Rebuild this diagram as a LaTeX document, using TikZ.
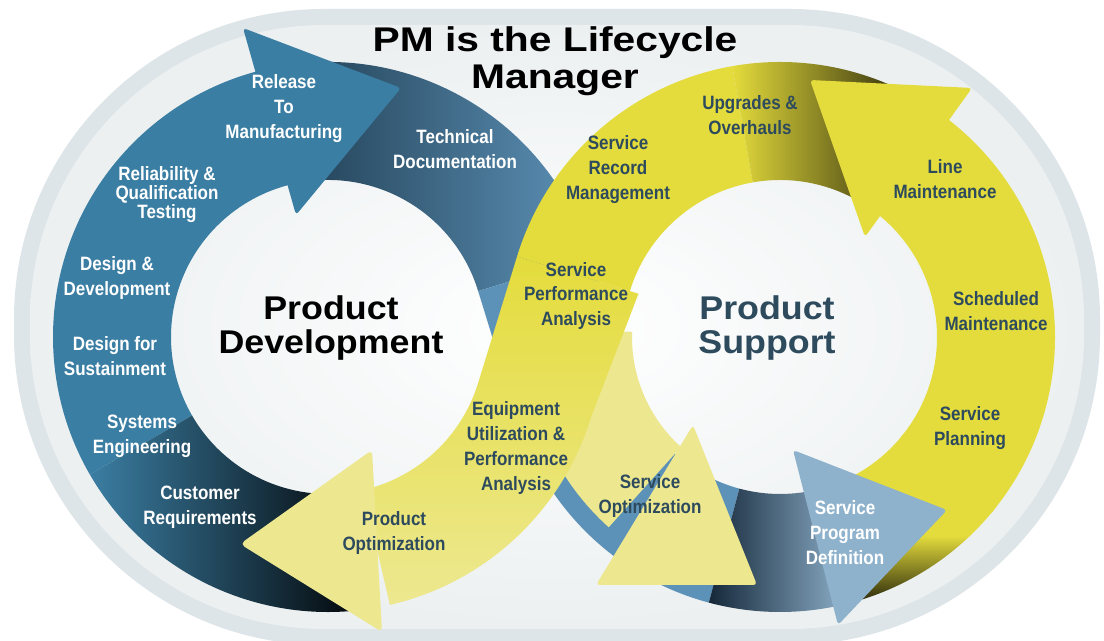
\documentclass[tikz,border=0pt]{standalone}
\usepackage{fontspec}
\setmainfont{Liberation Sans}
\newfontfamily\lblfont[FakeStretch=0.88]{Liberation Sans}
\newfontfamily\hubfont[FakeStretch=1.09]{Liberation Sans}
\newfontfamily\headfont[FakeStretch=1.19]{Liberation Sans}
\usepackage{tikz}
\usetikzlibrary{calc}

\definecolor{rimgray}{HTML}{DEE5E8}
\definecolor{bggray}{HTML}{ECF0F1}
\definecolor{bluemain}{HTML}{3B7EA3}
\definecolor{bluedark}{HTML}{1D3A4D}
\definecolor{bluesoft}{HTML}{5D92B8}
\definecolor{bluelight}{HTML}{8FB2CC}
\definecolor{navy}{HTML}{15283A}
\definecolor{yellowmain}{HTML}{E4DC3C}
\definecolor{yellowpale}{HTML}{EDE890}
\definecolor{olive}{HTML}{7E7818}
\definecolor{olivedark}{HTML}{25230A}
\definecolor{inkslate}{HTML}{2E4B5E}

% shadow under the blue arrow head
\pgfdeclareverticalshading{duskramp}{100bp}{color(0bp)=(olivedark); color(25bp)=(olivedark); color(45bp)=(yellowmain); color(100bp)=(yellowmain)}

% ring radii (picture units)
\newcommand{\rin}{157}
\newcommand{\rout}{275}
% annular sector: centre, start angle, end angle
\newcommand{\ringseg}[3]{($(#1)+(#2:\rout)$) arc[start angle=#2, end angle=#3, radius=\rout] -- ($(#1)+(#3:\rin)$) arc[start angle=#3, end angle=#2, radius=\rin] -- cycle}

\tikzset{
    lbl/.style={align=center, inner sep=0pt, font=\lblfont\bfseries\fontsize{11}{14.2}\selectfont},
    onblue/.style={lbl, text=white},
    onyellow/.style={lbl, text=inkslate},
    hub/.style={align=center, inner sep=0pt, font=\hubfont\bfseries\fontsize{18.7}{19.9}\selectfont},
    headline/.style={align=center, inner sep=0pt, font=\headfont\bfseries\fontsize{19.5}{21}\selectfont},
}

\begin{document}
\begin{tikzpicture}[x=0.02cm, y=0.02cm]
    \useasboundingbox (0,0) rectangle (1104,641);
    \fill[white] (0,0) rectangle (1104,641);
    \fill[rimgray, rounded corners=6.2cm] (14,-4) rectangle (1100,632);
    \shade[inner color=white, outer color=bggray, rounded corners=5.9cm] (30,12) rectangle (1084,616);

    \coordinate (pdc) at (328,304);
    \coordinate (psc) at (780,304);

    % blue band crossing over to the support ring
    \shade[left color=bluedark, middle color=bluemain, right color=bluesoft] \ringseg{pdc}{103}{17};
    \fill[bluesoft] ($(pdc)+(17:\rin)$) -- ($(psc)+(197:\rout)$) -- ($(psc)+(197:\rin)$) -- ($(pdc)+(17:\rout)$) -- cycle;
    \fill[bluesoft] \ringseg{psc}{197}{255};
    \shade[left color=navy, right color=bluelight] \ringseg{psc}{255}{285};

    % pale branch to service optimization
    \fill[yellowpale] ($(psc)+(178:256)$) arc[start angle=178, end angle=228, radius=256] -- ($(psc)+(228:148)$) arc[start angle=228, end angle=178, radius=148] -- cycle;

    % yellow band crossing over to the development ring
    \shade[top color=yellowmain, bottom color=yellowpale] ($(psc)+(163:148)$) -- ($(pdc)+(-17:\rout)$) arc[start angle=-17, end angle=-77, radius=\rout] -- ($(pdc)+(-77:\rin)$) arc[start angle=-77, end angle=-17, radius=\rin] -- ($(psc)+(163:\rout)$) -- cycle;
    \fill[yellowmain] \ringseg{psc}{100}{163};
    \shade[left color=yellowmain, middle color=olive, right color=olivedark] \ringseg{psc}{60}{100};

    % development ring
    \fill[bluemain] \ringseg{pdc}{-150}{-260};
    \shade[left color=bluemain, middle color=bluemain!60!black, right color=black] \ringseg{pdc}{-80}{-150};

    % support ring
    \fill[yellowmain] \ringseg{psc}{-40}{57};
    \shade[shading=duskramp] \ringseg{psc}{-76}{-38};

    % arrow heads
    \fill[bluemain, rounded corners=2pt] (243,613) -- (401,553) -- (296,426) -- cycle;
    \fill[yellowmain, rounded corners=2pt] (810,561) -- (972,553) -- (865,404) -- cycle;
    \fill[yellowpale, rounded corners=3pt] (240,97) -- (372,191) -- (382,9) -- cycle;
    \fill[yellowpale, rounded corners=2pt] (693,216) -- (757,56) -- (596,56) -- cycle;
    \fill[bluelight, rounded corners=2pt] (793,191) -- (947,131) -- (838,16) -- cycle;

    % labels
    \node[headline] (title) at (555,580) {PM is the Lifecycle\\Manager};
    \node[hub] (pdev) at (331,313) {Product\\Development};
    \node[hub, text=inkslate] (psupp) at (767,313) {Product\\Support};

    \node[onblue] (rtm) at (284,532) {Release\\To\\Manufacturing};
    \node[onblue] (techdoc) at (455,492) {Technical\\Documentation};
    \node[onblue, font=\lblfont\bfseries\fontsize{11}{10.8}\selectfont] (relq) at (167,446) {Reliability \&\\Qualification\\Testing};
    \node[onblue] (desdev) at (117,363) {Design \&\\Development};
    \node[onblue] (dfs) at (115,285) {Design for\\Sustainment};
    \node[onblue] (syseng) at (142,205) {Systems\\Engineering};
    \node[onblue] (custreq) at (200,134) {Customer\\Requirements};
    \node[onyellow] (prodopt) at (394,108) {Product\\Optimization};
    \node[onyellow] (eupa) at (516,193) {Equipment\\Utilization \&\\Performance\\Analysis};
    \node[onyellow] (spa) at (576,345) {Service\\Performance\\Analysis};
    \node[onyellow] (srm) at (618,471) {Service\\Record\\Management};
    \node[onyellow] (upgr) at (750,526) {Upgrades \&\\Overhauls};
    \node[onyellow] (linem) at (945,462) {Line\\Maintenance};
    \node[onyellow] (schedm) at (996,330) {Scheduled\\Maintenance};
    \node[onyellow] (servplan) at (970,213) {Service\\Planning};
    \node[onyellow] (servopt) at (650,145) {Service\\Optimization};
    \node[onblue] (spd) at (845,108) {Service\\Program\\Definition};
\end{tikzpicture}
\end{document}
